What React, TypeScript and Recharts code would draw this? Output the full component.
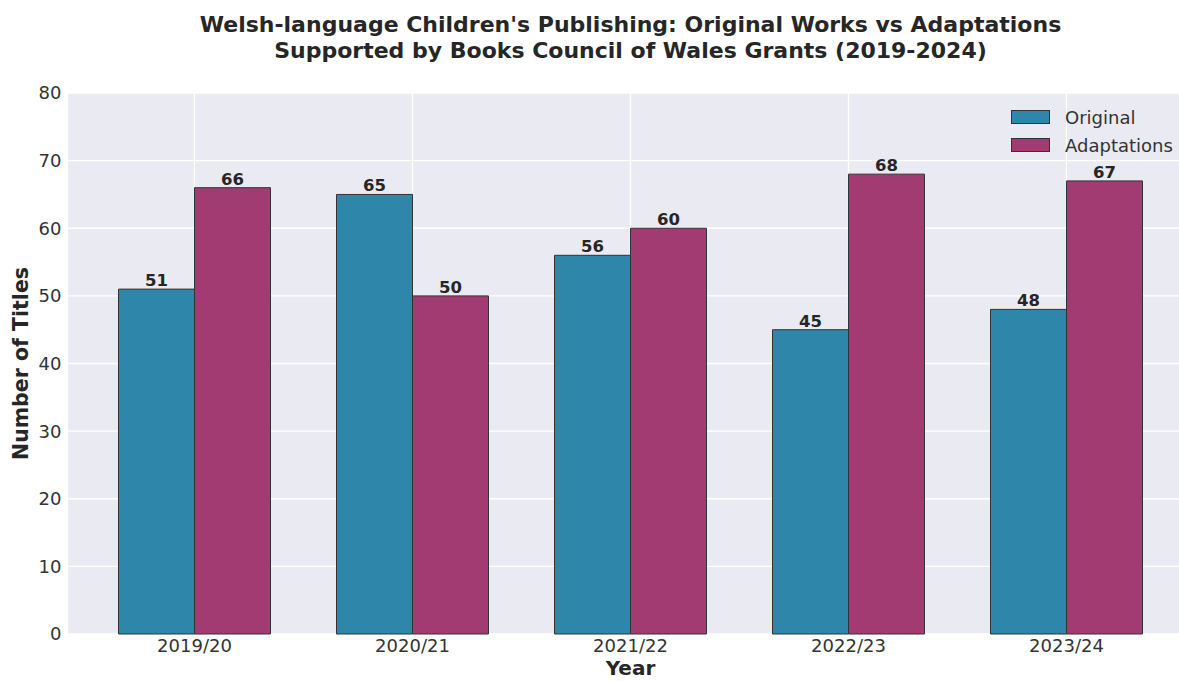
import React from 'react';
import {
  BarChart,
  Bar,
  XAxis,
  YAxis,
  CartesianGrid,
  LabelList,
  Label,
} from 'recharts';

const years = ['2019/20', '2020/21', '2021/22', '2022/23', '2023/24'];
const originalTitles = [51, 65, 56, 45, 48];
const adaptationTitles = [66, 50, 60, 68, 67];
const yTicks = [0, 10, 20, 30, 40, 50, 60, 70, 80];

const FONT = '"DejaVu Sans", sans-serif';
const TEXT = '#333333';
const DARK = '#262626';
const BLUE = '#2E86AB';
const PLUM = '#A23B72';
const EDGE = '#333333';

const rows = years.map((year, i) => ({
  year,
  original: originalTitles[i],
  adaptations: adaptationTitles[i],
}));

const legendItems = [
  { name: 'Original', color: BLUE },
  { name: 'Adaptations', color: PLUM },
];

const valueLabelStyle = {
  fill: DARK,
  fontSize: 16.5,
  fontWeight: 'bold',
  fontFamily: FONT,
};

function LegendBox() {
  return (
    <div
      style={{
        position: 'absolute',
        left: 1011,
        top: 103,
        width: 180,
        fontFamily: FONT,
        fontSize: 18,
        color: TEXT,
      }}
    >
      {legendItems.map(item => (
        <div
          key={item.name}
          style={{ display: 'flex', alignItems: 'center', height: 28 }}
        >
          <span
            style={{
              display: 'inline-block',
              width: 37,
              height: 12,
              background: item.color,
              border: `1px solid ${EDGE}`,
              marginRight: 15,
            }}
          />
          <span>{item.name}</span>
        </div>
      ))}
    </div>
  );
}

export default function App() {
  return (
    <div
      style={{
        position: 'absolute',
        left: 0,
        top: 0,
        width: 1179,
        height: 681,
        overflow: 'hidden',
        background: '#fff',
      }}
    >
      <div
        style={{
          position: 'absolute',
          left: 0,
          top: 12,
          width: 1261,
          textAlign: 'center',
          fontFamily: FONT,
          fontWeight: 'bold',
          fontSize: 22,
          lineHeight: '26px',
          color: DARK,
        }}
      >
        Welsh-language Children's Publishing: Original Works vs Adaptations
        <br />
        Supported by Books Council of Wales Grants (2019-2024)
      </div>

      <BarChart
        width={1200}
        height={681}
        data={rows}
        margin={{ top: 93, right: 6.5, bottom: 0, left: 0 }}
        barGap={0}
        barSize={76}
      >
        <CartesianGrid
          fill="#EAEAF2"
          stroke="#ffffff"
          strokeWidth={1.3}
          horizontal={{ stroke: '#ffffff', strokeOpacity: 0.35 }}
        />
        <XAxis
          dataKey="year"
          height={47}
          axisLine={false}
          tickLine={false}
          tickSize={0}
          tickMargin={5}
          padding={{ left: 18, right: 18 }}
          tick={{ fill: TEXT, fontSize: 18, fontFamily: FONT }}
        >
          <Label
            value="Year"
            position="insideBottom"
            offset={6}
            style={{
              fill: DARK,
              fontSize: 20,
              fontWeight: 'bold',
              fontFamily: FONT,
            }}
          />
        </XAxis>
        <YAxis
          width={67.5}
          domain={[0, 80]}
          ticks={yTicks}
          axisLine={false}
          tickLine={false}
          tickSize={0}
          tickMargin={6}
          tick={{ fill: TEXT, fontSize: 18, fontFamily: FONT }}
        >
          <Label
            content={({ viewBox }: any) => {
              const cx = 21;
              const cy = viewBox.y + viewBox.height / 2;
              return (
                <text
                  x={cx}
                  y={cy}
                  transform={`rotate(-90 ${cx} ${cy})`}
                  textAnchor="middle"
                  dominantBaseline="central"
                  fill={DARK}
                  fontSize={20.5}
                  fontWeight="bold"
                  fontFamily={FONT}
                >
                  Number of Titles
                </text>
              );
            }}
          />
        </YAxis>
        <Bar
          dataKey="original"
          name="Original"
          fill={BLUE}
          stroke={EDGE}
          strokeWidth={1}
          isAnimationActive={false}
        >
          <LabelList
            dataKey="original"
            position="top"
            offset={3}
            style={valueLabelStyle}
          />
        </Bar>
        <Bar
          dataKey="adaptations"
          name="Adaptations"
          fill={PLUM}
          stroke={EDGE}
          strokeWidth={1}
          isAnimationActive={false}
        >
          <LabelList
            dataKey="adaptations"
            position="top"
            offset={3}
            style={valueLabelStyle}
          />
        </Bar>
      </BarChart>
      <LegendBox />
    </div>
  );
}
